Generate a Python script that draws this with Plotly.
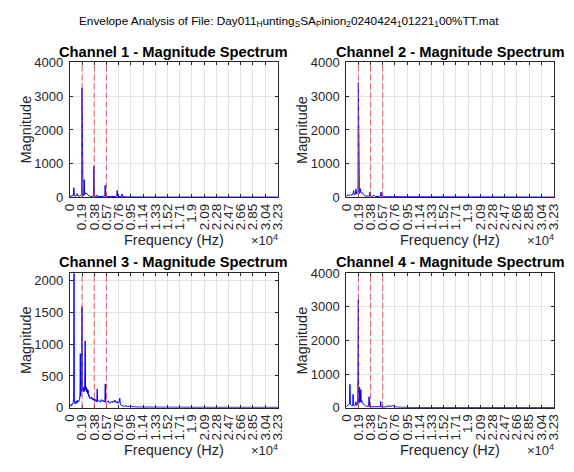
import plotly.graph_objects as go

# ---------------- data ----------------
tick_labels = ["0", "0.19", "0.38", "0.57", "0.76", "0.95", "1.14", "1.33", "1.52",
               "1.71", "1.9", "2.09", "2.28", "2.47", "2.66", "2.85", "3.04", "3.23"]
tick_vals = [0, 1900, 3800, 5700, 7600, 9500, 11400, 13300, 15200,
             17100, 19000, 20900, 22800, 24700, 26600, 28500, 30400, 32300]
freq_max = 32400
harmonic_freqs = [1900, 3800, 5700]

f1 = [0, 150, 300, 450, 560, 630, 700, 850, 1000, 1080,
      1130, 1180, 1300, 1450, 1600, 1750, 1840, 1890, 1940, 2050,
      2180, 2240, 2300, 2380, 2450, 2520, 2600, 2680, 2760, 2850,
      3000, 3200, 3400, 3600, 3700, 3750, 3800, 3900, 4050, 4200,
      4250, 4300, 4500, 4700, 4900, 5100, 5300, 5450, 5500, 5550,
      5700, 5900, 6200, 6500, 6800, 7100, 7300, 7370, 7440, 7600,
      7800, 8050, 8130, 8200, 8400, 8700, 9000, 9500, 10000, 11000,
      12500, 14000, 15500, 17000, 18500, 20000, 21500, 23000, 24500, 26000,
      27500, 29000, 30500, 32000, 32400]
m1 = [30, 40, 35, 50, 60, 290, 50, 40, 45, 60,
      115, 50, 40, 35, 45, 60, 80, 3250, 90, 70,
      60, 525, 80, 130, 110, 140, 120, 100, 80, 50,
      40, 35, 30, 35, 45, 930, 50, 35, 30, 40,
      75, 30, 25, 25, 30, 30, 35, 40, 360, 40,
      25, 20, 25, 30, 25, 25, 40, 205, 40, 30,
      25, 30, 105, 30, 20, 15, 15, 12, 10, 10,
      10, 10, 10, 10, 10, 10, 10, 10, 10, 10,
      10, 10, 10, 10, 10]

f2 = [0, 150, 300, 450, 600, 750, 900, 1050, 1150, 1250,
      1400, 1520, 1620, 1750, 1840, 1890, 1940, 2050, 2150, 2230,
      2300, 2380, 2450, 2530, 2600, 2680, 2760, 2850, 3000, 3200,
      3400, 3600, 3700, 3800, 3950, 4150, 4350, 4550, 4750, 4950,
      5150, 5350, 5430, 5480, 5550, 5750, 6000, 6300, 6700, 7100,
      7500, 8000, 8500, 9000, 10000, 11500, 13000, 14500, 16000, 17500,
      19000, 20500, 22000, 23500, 25000, 26500, 28000, 29500, 31000, 32400]
m2 = [40, 60, 80, 50, 90, 60, 70, 100, 200, 80,
      90, 240, 100, 120, 150, 3400, 160, 120, 140, 260,
      150, 130, 120, 140, 110, 90, 70, 50, 40, 45,
      35, 40, 160, 45, 30, 35, 60, 30, 25, 30,
      30, 40, 160, 50, 25, 20, 20, 20, 15, 15,
      15, 15, 12, 12, 10, 10, 10, 10, 10, 10,
      10, 10, 10, 10, 10, 10, 10, 10, 10, 10]

f3 = [0, 100, 200, 300, 400, 500, 600, 650, 700, 800,
      900, 1000, 1100, 1200, 1300, 1400, 1500, 1580, 1630, 1680,
      1750, 1840, 1890, 1940, 2000, 2080, 2150, 2230, 2300, 2390,
      2450, 2520, 2600, 2680, 2760, 2840, 2920, 3000, 3100, 3200,
      3300, 3400, 3500, 3600, 3700, 3800, 3900, 4000, 4100, 4200,
      4260, 4320, 4450, 4600, 4750, 4900, 5050, 5200, 5350, 5450,
      5510, 5570, 5700, 5850, 6000, 6150, 6300, 6450, 6600, 6750,
      6900, 7050, 7200, 7350, 7500, 7650, 7780, 7850, 8000, 8200,
      8400, 8700, 9000, 9300, 9500, 9700, 10000, 11000, 12500, 14000,
      15500, 17000, 18500, 20000, 21500, 23000, 24500, 26000, 27500, 29000,
      30500, 32000, 32400]
m3 = [20, 40, 30, 60, 50, 80, 150, 2110, 120, 60,
      90, 110, 70, 120, 90, 100, 130, 200, 850, 180,
      250, 300, 1590, 280, 320, 250, 300, 330, 260, 1050,
      280, 330, 250, 300, 220, 280, 180, 200, 150, 160,
      140, 170, 130, 150, 120, 140, 100, 130, 110, 90,
      295, 100, 120, 110, 90, 130, 100, 120, 90, 110,
      375, 90, 80, 100, 110, 70, 90, 100, 80, 110,
      90, 120, 80, 100, 70, 90, 150, 60, 40, 30,
      25, 30, 20, 25, 35, 20, 15, 12, 10, 10,
      8, 8, 8, 10, 8, 8, 8, 10, 8, 8,
      8, 8, 8]

f4 = [0, 150, 300, 450, 520, 580, 650, 800, 950, 1020,
      1070, 1120, 1250, 1400, 1520, 1600, 1700, 1800, 1890, 1950,
      2000, 2040, 2090, 2140, 2200, 2280, 2350, 2430, 2520, 2600,
      2700, 2800, 2950, 3150, 3350, 3500, 3550, 3600, 3650, 3800,
      4000, 4300, 4600, 4900, 5150, 5330, 5380, 5430, 5600, 5850,
      6100, 6350, 6490, 6600, 6800, 7000, 7250, 7450, 7700, 8000,
      8500, 9000, 10000, 11500, 13000, 14500, 16000, 17500, 19000, 20500,
      22000, 23500, 25000, 26500, 28000, 29500, 31000, 32400]
m4 = [30, 60, 80, 100, 120, 700, 90, 70, 60, 80,
      400, 70, 60, 80, 180, 70, 90, 110, 3220, 130,
      150, 200, 615, 160, 200, 540, 170, 220, 150, 130,
      100, 80, 60, 45, 40, 50, 330, 45, 35, 30,
      30, 25, 25, 25, 30, 35, 190, 30, 20, 20,
      25, 30, 67, 30, 60, 45, 70, 40, 30, 20,
      15, 12, 10, 10, 10, 10, 10, 10, 10, 10,
      10, 10, 10, 10, 10, 10, 10, 10]

channel_names = ["Channel 1 - Magnitude Spectrum", "Channel 2 - Magnitude Spectrum",
                 "Channel 3 - Magnitude Spectrum", "Channel 4 - Magnitude Spectrum"]
y_max = [4000, 4000, 2110, 4000]
y_ticks = [[0, 1000, 2000, 3000, 4000], [0, 1000, 2000, 3000, 4000],
           [0, 500, 1000, 1500, 2000], [0, 1000, 2000, 3000, 4000]]
freqs = [f1, f2, f3, f4]
mags = [m1, m2, m3, m4]
suptitle = ("Envelope Analysis of File: Day011<sub>H</sub>unting<sub>S</sub>SA<sub>P</sub>"
            "inion<sub>2</sub>0240424<sub>1</sub>01221<sub>1</sub>00%TT.mat")

# ---------------- layout geometry (reference pixels) ----------------
W, H = 574, 472
cols = [(63.5, 277.3), (347.3, 560.7)]
rows = [(57.3, 196.7), (275.0, 414.0)]
FONT = "Liberation Sans, Arial, Helvetica, sans-serif"
AX = "#262626"

def px(x):
    return x / W

def py(y):
    return 1 - y / H

fig = go.Figure()
layout = dict(width=W, height=H, margin=dict(l=0, r=0, t=0, b=0), autosize=False,
              paper_bgcolor="white", plot_bgcolor="white", showlegend=False,
              font=dict(family=FONT, color=AX))
annotations = []
shapes = []

for i in range(4):
    r, c = divmod(i, 2)
    xa = "xaxis" if i == 0 else f"xaxis{i+1}"
    ya = "yaxis" if i == 0 else f"yaxis{i+1}"
    xr = "x" if i == 0 else f"x{i+1}"
    yr = "y" if i == 0 else f"y{i+1}"
    x0, x1 = cols[c]
    y0, y1 = rows[r]
    layout[xa] = dict(domain=[px(x0), px(x1)], anchor=yr, range=[0, freq_max],
                      tickvals=tick_vals, ticktext=tick_labels, tickangle=-90,
                      showgrid=True, gridcolor="#e3e3e3", gridwidth=1,
                      showline=True, linecolor=AX, linewidth=1, mirror="ticks",
                      ticks="inside", ticklen=3, tickcolor=AX, zeroline=False,
                      tickfont=dict(family=FONT, size=13.5, color=AX),
                      layer="below traces", fixedrange=True)
    layout[ya] = dict(domain=[py(y1), py(y0)], anchor=xr, range=[0, y_max[i]],
                      tickvals=y_ticks[i], showgrid=True, gridcolor="#e3e3e3", gridwidth=1,
                      showline=True, linecolor=AX, linewidth=1, mirror="ticks",
                      ticks="inside", ticklen=3, tickcolor=AX, zeroline=False,
                      tickfont=dict(family=FONT, size=13, color=AX), ticklabelstandoff=3,
                      layer="below traces", fixedrange=True)
    fig.add_trace(go.Scatter(x=freqs[i], y=mags[i], mode="lines", xaxis=xr, yaxis=yr,
                             line=dict(color="#0000ff", width=1), hoverinfo="skip"))
    for hf in harmonic_freqs:
        shapes.append(dict(type="line", xref=xr, yref=f"{yr} domain", x0=hf, x1=hf, y0=0, y1=1,
                           line=dict(color="rgba(220,70,85,0.85)", width=1, dash="6px,3px"),
                           layer="above"))
    cx = (x0 + x1) / 2
    annotations.append(dict(text="<b>" + channel_names[i] + "</b>", xref="paper", yref="paper",
                            x=px(cx), y=py(y0 - 1), xanchor="center", yanchor="bottom",
                            showarrow=False, font=dict(family=FONT, size=14.7, color="black")))
    annotations.append(dict(text="Magnitude", xref="paper", yref="paper",
                            x=px(x0 - 45.5), y=py((y0 + y1) / 2), xanchor="center", yanchor="middle",
                            textangle=-90, showarrow=False, font=dict(family=FONT, size=14.5, color=AX)))
    annotations.append(dict(text="Frequency (Hz)", xref="paper", yref="paper",
                            x=px(cx), y=py(y1 + 44), xanchor="center", yanchor="middle",
                            showarrow=False, font=dict(family=FONT, size=14.5, color=AX)))
    annotations.append(dict(text="\u00d710<sup>4</sup>", xref="paper", yref="paper",
                            x=px(x1 + 2), y=py(y1 + 44), xanchor="right", yanchor="middle",
                            showarrow=False, font=dict(family=FONT, size=13, color=AX)))

annotations.append(dict(text=suptitle, xref="paper", yref="paper", x=px(289), y=py(15),
                        xanchor="center", yanchor="middle", showarrow=False,
                        font=dict(family=FONT, size=11.8, color="black")))

layout["annotations"] = annotations
layout["shapes"] = shapes
fig.update_layout(**layout)
# remove the browser's default page margin so the figure fills the window exactly
fig.write_html("out.html", config={"displayModeBar": False},
               post_script="document.body.style.margin='0';document.body.style.overflow='hidden';")
